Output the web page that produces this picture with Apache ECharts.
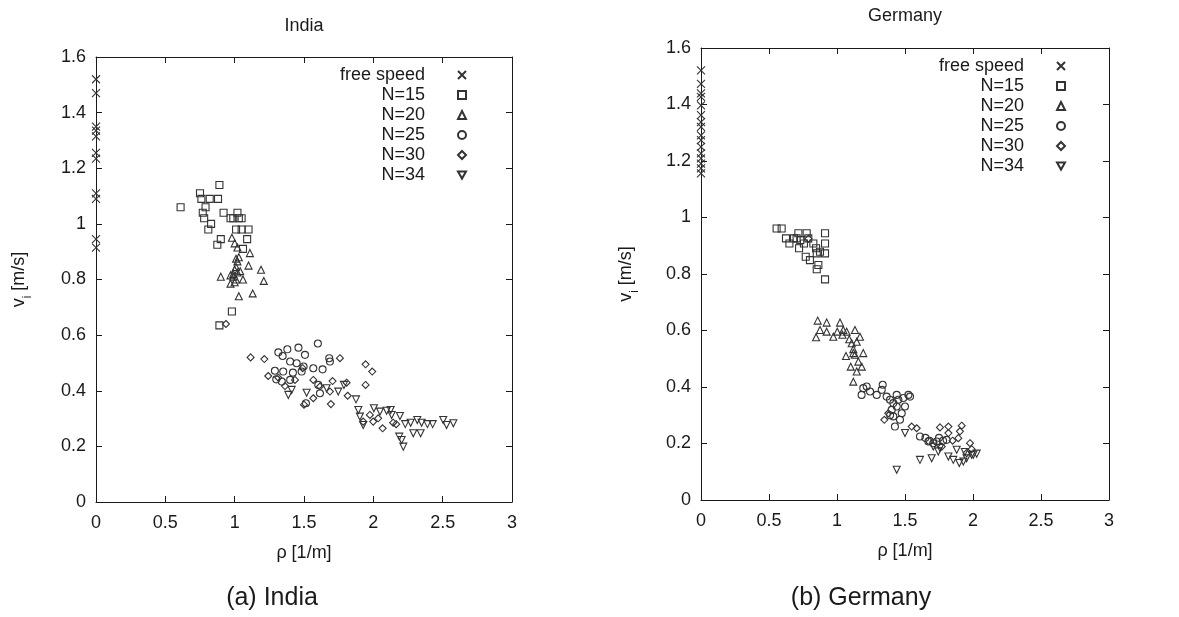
<!DOCTYPE html>
<html>
<head>
<meta charset="utf-8">
<title>India / Germany</title>
<script src="https://cdn.jsdelivr.net/npm/echarts@6.0.0/dist/echarts.min.js"></script>
<style>
  html, body { margin: 0; padding: 0; background: #fff; }
  #chart { width: 1179px; height: 617px; }
</style>
</head>
<body>
<div id="chart"></div>
<script>
// ---- data: [rho, v] ----
var seriesNames = ["free speed", "N=15", "N=20", "N=25", "N=30", "N=34"];

var indiaFree = [[0,1.52],[0,1.47],[0,1.35],[0,1.335],[0,1.315],[0,1.255],[0,1.235],[0,1.11],[0,1.09],[0,0.945],[0,0.915]];
var india15 = [[0.61,1.06],[0.75,1.11],[0.89,1.14],[0.76,1.09],[0.82,1.09],[0.88,1.09],[0.79,1.06],[0.77,1.04],
  [0.78,1.02],[0.81,0.98],[0.83,1.0],[0.92,1.04],[0.97,1.02],[1.02,1.04],[1.03,1.02],[0.99,1.02],[1.05,1.02],
  [1.01,0.98],[1.05,0.98],[1.10,0.98],[1.09,0.945],[0.90,0.945],[0.875,0.925],[1.06,0.91],[0.98,0.685],[0.89,0.635]];
var india20 = [[0.98,0.95],[1.0,0.93],[1.02,0.915],[1.11,0.895],[1.03,0.88],[1.02,0.865],[1.01,0.845],[1.10,0.85],
  [1.19,0.835],[0.90,0.81],[0.97,0.815],[0.99,0.82],[1.04,0.83],[1.01,0.80],[1.06,0.80],[0.97,0.785],[1.21,0.795],
  [1.03,0.74],[1.13,0.75],[1.01,0.875],[1.0,0.835],[0.99,0.81],[1.02,0.825],[1.0,0.79]];
var india25 = [[1.60,0.57],[1.46,0.555],[1.315,0.538],[1.38,0.549],[1.346,0.525],[1.507,0.529],[1.40,0.505],[1.29,0.472],
  [1.30,0.441],[1.34,0.433],[1.447,0.499],[1.483,0.469],[1.567,0.481],[1.634,0.477],[1.682,0.517],[1.687,0.505],
  [1.603,0.421],[1.615,0.391],[1.514,0.355],[1.35,0.469],[1.40,0.439],[1.42,0.465],[1.497,0.487]];
var india30 = [[0.937,0.64],[1.115,0.52],[1.214,0.514],[1.242,0.453],[1.315,0.447],[1.363,0.417],[1.435,0.439],[1.49,0.481],
  [1.567,0.439],[1.615,0.415],[1.567,0.373],[1.687,0.397],[1.694,0.352],[1.706,0.435],[1.759,0.517],[1.807,0.429],
  [1.815,0.382],[1.944,0.495],[1.992,0.469],[1.944,0.421],[1.975,0.313],[2.067,0.265],[1.999,0.289],[2.143,0.285],
  [1.927,0.289],[2.035,0.301],[1.50,0.35],[2.165,0.28]];
var india34 = [[1.387,0.385],[1.411,0.403],[1.519,0.393],[1.663,0.409],[1.747,0.397],[1.788,0.421],[1.875,0.369],[1.892,0.331],
  [1.903,0.307],[1.927,0.277],[2.004,0.337],[2.048,0.325],[2.096,0.328],[2.125,0.331],[2.132,0.313],[2.192,0.309],
  [2.187,0.235],[2.216,0.199],[2.204,0.223],[2.269,0.285],[2.317,0.295],[2.348,0.285],[2.288,0.247],[2.341,0.247],
  [2.428,0.28],[2.504,0.295],[2.528,0.277],[2.577,0.283],[2.39,0.28],[2.23,0.28]];

var germanyFree = [[0,1.521],[0,1.473],[0,1.439],[0,1.427],[0,1.397],[0,1.362],[0,1.338],[0,1.321],[0,1.291],[0,1.274],
  [0,1.25],[0,1.227],[0,1.209],[0,1.191],[0,1.174],[0,1.156]];
var germany15 = [[0.556,0.961],[0.593,0.961],[0.625,0.926],[0.65,0.908],[0.703,0.926],[0.716,0.944],[0.721,0.891],[0.757,0.908],
  [0.777,0.944],[0.789,0.926],[0.77,0.861],[0.801,0.849],[0.826,0.908],[0.846,0.891],[0.863,0.832],[0.851,0.817],
  [0.851,0.873],[0.912,0.944],[0.912,0.908],[0.912,0.873],[0.912,0.781],[0.875,0.879],[0.684,0.926],[0.73,0.92]];
var germany20 = [[0.858,0.635],[0.924,0.628],[0.875,0.602],[0.924,0.596],[0.846,0.576],[0.973,0.578],[1.022,0.628],[1.046,0.602],
  [1.002,0.596],[1.071,0.596],[1.132,0.602],[1.169,0.578],[1.09,0.569],[1.108,0.555],[1.12,0.534],[1.066,0.51],
  [1.132,0.514],[1.193,0.52],[1.157,0.49],[1.101,0.472],[1.182,0.472],[1.145,0.455],[1.12,0.419],[1.04,0.585],
  [1.145,0.56],[1.12,0.52]];
var germany25 = [[1.181,0.372],[1.193,0.396],[1.218,0.402],[1.243,0.384],[1.292,0.372],[1.336,0.408],[1.329,0.39],[1.365,0.366],
  [1.39,0.355],[1.439,0.372],[1.451,0.355],[1.488,0.361],[1.525,0.372],[1.537,0.366],[1.402,0.319],[1.414,0.296],
  [1.426,0.26],[1.439,0.331],[1.476,0.307],[1.414,0.343],[1.463,0.284],[1.5,0.331],[1.61,0.225],[1.672,0.207],
  [1.708,0.201],[1.733,0.207],[1.806,0.213],[1.39,0.30],[1.65,0.22],[1.68,0.21],[1.75,0.22],[1.78,0.21]];
var germany30 = [[0.79,0.925],[1.348,0.284],[1.377,0.307],[1.549,0.26],[1.586,0.254],[1.757,0.257],[1.819,0.26],[1.917,0.263],
  [1.904,0.243],[1.978,0.201],[1.953,0.166],[1.819,0.237],[1.892,0.219],[1.77,0.189],[1.85,0.21],[1.99,0.18]];
var germany34 = [[1.439,0.107],[1.61,0.142],[1.696,0.148],[1.745,0.172],[1.819,0.154],[1.855,0.142],[1.899,0.131],[1.929,0.136],
  [1.953,0.148],[2.002,0.16],[2.027,0.164],[1.5,0.237],[1.708,0.189],[1.757,0.184],[1.88,0.178],[1.94,0.17],[1.99,0.16]];

var indiaData = [indiaFree, india15, india20, india25, india30, india34];
var germanyData = [germanyFree, germany15, germany20, germany25, germany30, germany34];

// ---- marker look (gnuplot style, open symbols) ----
var markSymbols = [
  "path://M0,0L10,10M10,0L0,10",
  "rect",
  "triangle",
  "circle",
  "diamond",
  "path://M0,0L10,0L5,9Z"          // down-pointing triangle
];
var markSizes = [8, 7, 7, 7, 7, 7];

var ink = "#1a1a1a";
var markInk = "#333";
var fontFam = "'Liberation Sans', Arial, sans-serif";

var chart = echarts.init(document.getElementById("chart"), null, { renderer: "canvas" });

function makeSeries(list, xi, yi) {
  return list.map(function (d, i) {
    return {
      name: seriesNames[i],
      type: "scatter",
      xAxisIndex: xi,
      yAxisIndex: yi,
      data: d,
      symbol: markSymbols[i],
      symbolSize: markSizes[i],
      clip: false,
      itemStyle: { color: "rgba(0,0,0,0)", borderColor: markInk, borderWidth: 1.1, opacity: 1 },
      emphasis: { disabled: true }
    };
  });
}

function xAx(grid, top) {
  return {
    type: "value", gridIndex: grid, min: 0, max: 3, interval: 0.5,
    position: top ? "top" : "bottom",
    name: top ? "" : "ρ [1/m]", nameLocation: "middle", nameGap: 42,
    nameTextStyle: { color: ink, fontSize: 18, fontFamily: fontFam },
    axisLine: { show: true, onZero: false, lineStyle: { color: ink, width: 1 } },
    axisTick: { show: true, inside: true, length: 6, lineStyle: { color: ink, width: 1 } },
    axisLabel: { show: !top, margin: 12, color: ink, fontSize: 18, fontFamily: fontFam, showMinLabel: true, showMaxLabel: true },
    splitLine: { show: false }
  };
}

function yAx(grid, right, gap) {
  return {
    type: "value", gridIndex: grid, min: 0, max: 1.6, interval: 0.2,
    position: right ? "right" : "left",
    name: right ? "" : "v{s|i} [m/s]", nameLocation: "middle", nameGap: gap,
    nameTextStyle: {
      color: ink, fontSize: 18, fontFamily: fontFam,
      rich: { s: { fontSize: 12, fontFamily: fontFam, color: ink, verticalAlign: "bottom", padding: [0, 0, -6, 0] } }
    },
    axisLine: { show: true, onZero: false, lineStyle: { color: ink, width: 1 } },
    axisTick: { show: true, inside: true, length: 6, lineStyle: { color: ink, width: 1 } },
    axisLabel: { show: !right, margin: 10, color: ink, fontSize: 18, fontFamily: fontFam, showMinLabel: true, showMaxLabel: true },
    splitLine: { show: false }
  };
}

function legendFor(right, top) {
  return {
    orient: "vertical", align: "right", right: right, top: top, padding: 0,
    itemWidth: 8, itemHeight: 8, itemGap: 0,
    data: seriesNames,
    selectedMode: false,
    textStyle: { color: ink, fontSize: 18, fontFamily: fontFam, lineHeight: 20, padding: [0, 28, 0, 0] }
  };
}

var option = {
  backgroundColor: "#fff",
  animation: false,
  title: [
    { text: "India", left: 304, top: 17, textAlign: "center", padding: 0,
      textStyle: { color: ink, fontSize: 18, fontWeight: "normal", fontFamily: fontFam } },
    { text: "Germany", left: 905, top: 7, textAlign: "center", padding: 0,
      textStyle: { color: ink, fontSize: 18, fontWeight: "normal", fontFamily: fontFam } },
    { text: "(a) India", left: 272, top: 586, textAlign: "center", padding: 0,
      textStyle: { color: ink, fontSize: 25, fontWeight: "normal", fontFamily: fontFam } },
    { text: "(b) Germany", left: 861, top: 586, textAlign: "center", padding: 0,
      textStyle: { color: ink, fontSize: 25, fontWeight: "normal", fontFamily: fontFam } }
  ],
  legend: [legendFor(712, 65), legendFor(113, 56)],
  grid: [
    { left: 96, top: 57, width: 416, height: 445, show: false, outerBoundsMode: "none" },
    { left: 701, top: 48, width: 408, height: 452, show: false, outerBoundsMode: "none" }
  ],
  xAxis: [xAx(0, false), xAx(0, true), xAx(1, false), xAx(1, true)],
  yAxis: [yAx(0, false, 68), yAx(0, true, 0), yAx(1, false, 66), yAx(1, true, 0)],
  series: makeSeries(indiaData, 0, 0).concat(makeSeries(germanyData, 2, 2))
};

chart.setOption(option);
</script>
</body>
</html>
